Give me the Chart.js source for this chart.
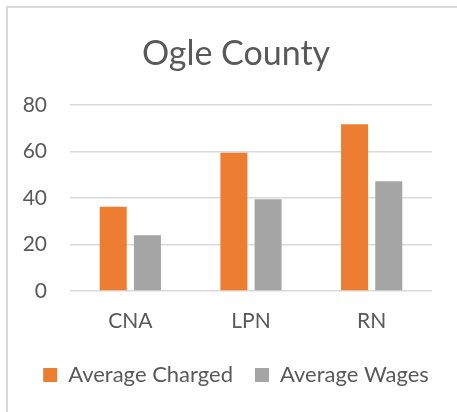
<!DOCTYPE html>
<html>
<head>
<meta charset="utf-8">
<script src="https://cdn.jsdelivr.net/npm/chart.js@4.4.0/dist/chart.umd.min.js"></script>
<style>
  html, body { margin: 0; padding: 0; background: #fff; }
  #wrap { position: relative; width: 457px; height: 412px; }
  #frame {
    position: absolute; left: 6px; top: 6px; right: 0; bottom: 0;
    border-left: 2px solid #d9d9d9; border-top: 2px solid #d9d9d9;
  }
  canvas { position: absolute; left: 0; top: 0; }
</style>
</head>
<body>
<div id="wrap">
  <div id="frame"></div>
  <canvas id="chart" width="457" height="412"></canvas>
</div>
<script>
const categories = ['CNA', 'LPN', 'RN'];
const averageCharged = [36.2, 59.4, 71.6];
const averageWages = [23.9, 39.4, 47.2];
const yTicks = [0, 20, 40, 60, 80];

const textColor = '#595959';
const fontFamily = "Lato, 'Open Sans', sans-serif";

new Chart(document.getElementById('chart').getContext('2d'), {
    type: 'bar',
    data: {
        labels: categories,
        datasets: [
            {
                label: 'Average Charged',
                data: averageCharged,
                backgroundColor: '#ED7D31',
                categoryPercentage: 0.567,
                barPercentage: 0.79
            },
            {
                label: 'Average Wages',
                data: averageWages,
                backgroundColor: '#A5A5A5',
                categoryPercentage: 0.567,
                barPercentage: 0.79
            }
        ]
    },
    options: {
        responsive: false,
        animation: false,
        layout: { padding: { left: 15, right: 0, top: 0, bottom: 16 } },
        scales: {
            x: {
                grid: { display: false },
                border: { display: false },
                ticks: {
                    color: textColor,
                    padding: 10,
                    font: { family: fontFamily, size: 21 }
                },
                afterFit: (scale) => { scale.height = 51; }
            },
            y: {
                min: yTicks[0],
                max: yTicks[yTicks.length - 1],
                afterBuildTicks: (scale) => {
                    scale.ticks = yTicks.map(v => ({ value: v }));
                },
                grid: { color: '#d9d9d9', lineWidth: 1.5, drawTicks: false },
                border: { display: false },
                ticks: {
                    color: textColor,
                    padding: 23,
                    font: { family: fontFamily, size: 21 }
                },
                afterFit: (scale) => { scale.width = 55; }
            },
            // empty right axis, only keeps the right margin inside the layout
            yRight: {
                position: 'right',
                grid: { display: false },
                border: { display: false },
                ticks: { display: false },
                afterFit: (scale) => { scale.width = 25; }
            }
        },
        plugins: {
            title: {
                display: true,
                text: 'Ogle County',
                color: textColor,
                font: { family: fontFamily, size: 34, weight: 'normal' },
                padding: { top: 34, bottom: 30 }
            },
            legend: {
                position: 'bottom',
                labels: {
                    color: textColor,
                    boxWidth: 14,
                    boxHeight: 14,
                    padding: 22,
                    font: { family: fontFamily, size: 22 }
                }
            },
            tooltip: { enabled: false }
        }
    }
});
</script>
</body>
</html>
